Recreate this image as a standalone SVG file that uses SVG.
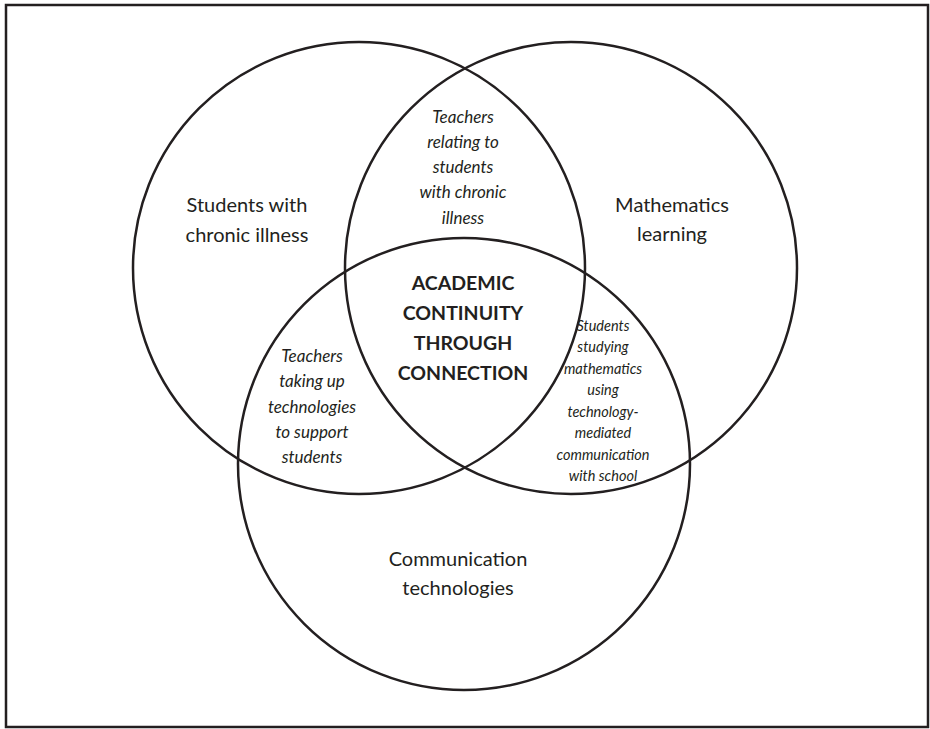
<svg xmlns="http://www.w3.org/2000/svg" width="930" height="729" viewBox="0 0 930 729">
  <style>
    .frame { fill: none; stroke: #231f20; stroke-width: 2.5; }
    .ring { fill: none; stroke: #231f20; stroke-width: 2.5; }
    text { font-family: Lato, "Open Sans", "Liberation Sans", sans-serif; fill: #231f20; text-anchor: middle; }
    .set { font-size: 20px; }
    .core { font-size: 19.5px; font-weight: bold; }
    .pair { font-size: 17px; font-style: italic; }
    .pair-sm { font-size: 14.5px; font-style: italic; }
  </style>
  <rect class="frame" x="6" y="5" width="922" height="722"/>

  <!-- three overlapping sets -->
  <g id="set-illness">
    <circle class="ring" cx="359" cy="268" r="226"/>
    <text class="set" x="247" y="212">Students with</text>
    <text class="set" x="247" y="242">chronic illness</text>
  </g>
  <g id="set-maths">
    <circle class="ring" cx="571" cy="268" r="226"/>
    <text class="set" x="672" y="212">Mathematics</text>
    <text class="set" x="672" y="241">learning</text>
  </g>
  <g id="set-comms">
    <circle class="ring" cx="464" cy="464" r="226"/>
    <text class="set" x="458" y="566">Communication</text>
    <text class="set" x="458" y="595">technologies</text>
  </g>

  <!-- pairwise overlaps -->
  <g id="overlap-illness-maths">
    <text class="pair" x="463" y="123">Teachers</text>
    <text class="pair" x="463" y="148">relating to</text>
    <text class="pair" x="463" y="173">students</text>
    <text class="pair" x="463" y="198">with chronic</text>
    <text class="pair" x="463" y="224">illness</text>
  </g>
  <g id="overlap-illness-comms">
    <text class="pair" x="312" y="362">Teachers</text>
    <text class="pair" x="312" y="387">taking up</text>
    <text class="pair" x="312" y="413">technologies</text>
    <text class="pair" x="312" y="438">to support</text>
    <text class="pair" x="312" y="463">students</text>
  </g>
  <g id="overlap-maths-comms">
    <text class="pair-sm" x="603" y="331">Students</text>
    <text class="pair-sm" x="603" y="352">studying</text>
    <text class="pair-sm" x="603" y="374">mathematics</text>
    <text class="pair-sm" x="603" y="395">using</text>
    <text class="pair-sm" x="603" y="417">technology-</text>
    <text class="pair-sm" x="603" y="438">mediated</text>
    <text class="pair-sm" x="603" y="460">communication</text>
    <text class="pair-sm" x="603" y="481">with school</text>
  </g>

  <!-- centre -->
  <g id="core">
    <text class="core" x="463" y="290">ACADEMIC</text>
    <text class="core" x="463" y="320">CONTINUITY</text>
    <text class="core" x="463" y="350">THROUGH</text>
    <text class="core" x="463" y="380">CONNECTION</text>
  </g>
</svg>
